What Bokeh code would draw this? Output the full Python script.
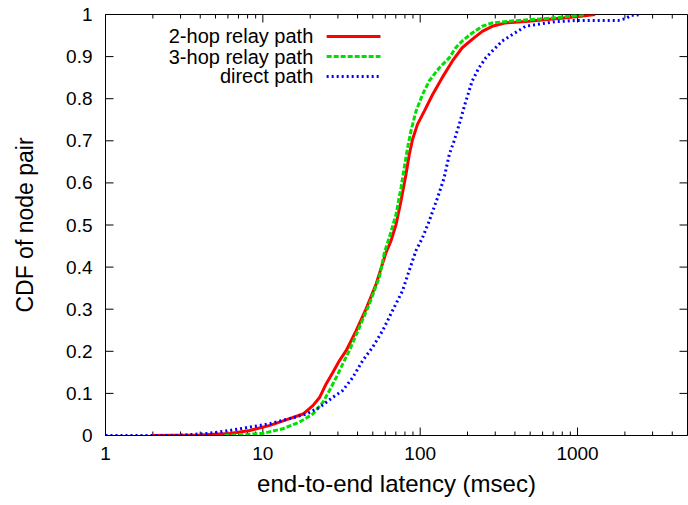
import math
from bokeh.plotting import figure
from bokeh.models import Range1d, FixedTicker, LinearScale
from bokeh.core.properties import value
from bokeh.embed import file_html
from bokeh.resources import INLINE

# Latency CDFs (x in msec, y = cumulative fraction of node pairs)
hop2_ms = [1.95, 4.0, 6.18, 8.27, 11.1, 14.8, 18.0, 20.8, 23.0, 25.3, 27.9, 30.7,
           33.9, 39.2, 45.3, 52.5, 60.7, 65.2, 70.2, 75.5, 81.2, 85.2, 89.4, 96.1,
           106, 120, 138, 160, 185, 214, 248, 287, 349, 490, 722, 1014, 1294]
hop2_cdf = [0, 0.001, 0.005, 0.012, 0.024, 0.040, 0.051, 0.071, 0.091, 0.123,
            0.150, 0.178, 0.202, 0.249, 0.301, 0.360, 0.435, 0.462, 0.501, 0.557,
            0.620, 0.667, 0.703, 0.739, 0.770, 0.810, 0.850, 0.889, 0.921, 0.941,
            0.960, 0.972, 0.980, 0.984, 0.990, 0.995, 1.0]

hop3_ms = [5.7, 7.5, 10, 13.4, 17.1, 20.8, 24.1, 26.5, 29.3, 32.2, 35.5, 41.1,
           47.6, 55.0, 59.2, 63.6, 70.2, 75.5, 79.2, 83.1, 87.3, 94, 103.5, 114,
           132, 153, 168, 185, 214, 248, 287, 366, 722, 1119]
hop3_cdf = [0, 0.002, 0.005, 0.016, 0.032, 0.051, 0.079, 0.107, 0.138, 0.170,
            0.202, 0.257, 0.313, 0.376, 0.434, 0.470, 0.525, 0.588, 0.636, 0.683,
            0.723, 0.770, 0.810, 0.842, 0.873, 0.897, 0.921, 0.937, 0.956, 0.972,
            0.980, 0.984, 0.992, 1.0]

direct_ms = [1, 2.8, 4.5, 6.18, 8.27, 11.1, 14.8, 18.9, 23.0, 27.9, 32.2, 37.3,
             43.1, 49.9, 57.7, 66.8, 77.3, 85.2, 94, 103.5, 114, 129, 142, 153,
             164, 177, 195, 214, 236, 261, 287, 332, 384, 467, 722, 1014, 1820,
             2004, 2207, 2553]
direct_cdf = [0, 0, 0.005, 0.012, 0.020, 0.028, 0.040, 0.051, 0.067, 0.091, 0.107,
              0.138, 0.178, 0.210, 0.249, 0.297, 0.344, 0.392, 0.439, 0.470, 0.509,
              0.565, 0.612, 0.667, 0.699, 0.739, 0.794, 0.842, 0.873, 0.897, 0.913,
              0.937, 0.952, 0.972, 0.983, 0.986, 0.986, 0.990, 0.998, 1.0]

series_names = ["2-hop relay path", "3-hop relay path", "direct path"]
x_major = [1, 10, 100, 1000]
x_minor = [m * d for d in (1, 10, 100, 1000) for m in range(2, 10) if m * d <= 5000]
y_ticks = [0, 0.1, 0.2, 0.3, 0.4, 0.5, 0.6, 0.7, 0.8, 0.9, 1.0]
y_tick_labels = ["0", "0.1", "0.2", "0.3", "0.4", "0.5", "0.6", "0.7", "0.8", "0.9", "1"]

X_MIN, X_MAX = 1, 5000
FONT = "Liberation Sans"
W, H = 688, 505
LEFT, RIGHT, TOP, BOTTOM = 105, 1, 14, 70
FRAME_W, FRAME_H = W - LEFT - RIGHT, H - TOP - BOTTOM

p = figure(width=W, height=H, x_axis_type="log",
           x_range=Range1d(X_MIN, X_MAX), y_range=Range1d(0, 1),
           output_backend="svg", toolbar_location=None,
           min_border_left=LEFT, min_border_right=RIGHT,
           min_border_top=TOP, min_border_bottom=BOTTOM)
p.background_fill_color = "white"
p.border_fill_color = "white"
p.outline_line_color = "black"
p.outline_line_width = 1
p.xgrid.visible = False
p.ygrid.visible = False

# fractional frame coordinates for the key and the inward tick marks
p.extra_x_ranges = {"frac": Range1d(0, 1)}
p.extra_y_ranges = {"frac": Range1d(0, 1)}
p.extra_x_scales = {"frac": LinearScale()}
p.extra_y_scales = {"frac": LinearScale()}

for ax in (p.xaxis[0], p.yaxis[0]):
    ax.major_tick_in = 0
    ax.major_tick_out = 0
    ax.minor_tick_in = 0
    ax.minor_tick_out = 0
    ax.axis_line_color = "black"
    ax.major_label_text_font = FONT
    ax.axis_label_text_font = FONT
    ax.axis_label_text_font_style = "normal"
    ax.major_label_text_color = "black"
    ax.axis_label_text_color = "black"

xb = p.xaxis[0]
xb.ticker = FixedTicker(ticks=x_major, minor_ticks=x_minor)
xb.major_label_overrides = {t: str(t) for t in x_major}
xb.major_label_text_font_size = "19px"
xb.major_label_standoff = 11
xb.axis_label = "end-to-end latency (msec)"
xb.axis_label_text_font_size = "24px"
xb.axis_label_standoff = 7

yl = p.yaxis[0]
yl.ticker = FixedTicker(ticks=y_ticks, minor_ticks=[])
yl.major_label_overrides = dict(zip(y_ticks, y_tick_labels))
yl.major_label_text_font_size = "19px"
yl.major_label_standoff = 13
yl.axis_label = "CDF of node pair"
yl.axis_label_text_font_size = "23px"
yl.axis_label_standoff = 25

# inward tick marks on all four borders, drawn in frame fractions
def log_frac(v):
    return math.log10(v / X_MIN) / math.log10(X_MAX / X_MIN)

tick_xs, tick_ys = [], []
for vals, length in ((x_major, 8), (x_minor, 4)):
    f = length / FRAME_H
    for v in vals:
        fx = log_frac(v)
        tick_xs += [[fx, fx], [fx, fx]]
        tick_ys += [[0, f], [1, 1 - f]]
fy = 8 / FRAME_W
for v in y_ticks:
    tick_xs += [[0, fy], [1, 1 - fy]]
    tick_ys += [[v, v], [v, v]]
p.multi_line(xs=tick_xs, ys=tick_ys, x_range_name="frac", y_range_name="frac",
             line_color="black", line_width=1)

styles = [
    dict(color="#ff0000", dash="solid"),
    dict(color="#00e000", dash="5 2"),
    dict(color="#0000ff", dash="2 3"),
]
curves = [(hop2_ms, hop2_cdf), (hop3_ms, hop3_cdf), (direct_ms, direct_cdf)]
for (xs, ys), st in zip(curves, styles):
    p.line(xs, ys, line_color=st["color"], line_width=3, line_dash=st["dash"])

# key: right-aligned labels followed by line samples
key_rows = [0.948, 0.900, 0.853]
for name, st, ky in zip(series_names, styles, key_rows):
    p.text(x=[0.357], y=[ky], text=[name], x_range_name="frac", y_range_name="frac",
           text_align="right", text_baseline="middle", text_font=value(FONT),
           text_font_size="20px", text_color="black")
    p.line([0.380, 0.4725], [ky, ky], x_range_name="frac", y_range_name="frac",
           line_color=st["color"], line_width=3, line_dash=st["dash"])

open("out.html", "w").write(file_html(p, INLINE))
